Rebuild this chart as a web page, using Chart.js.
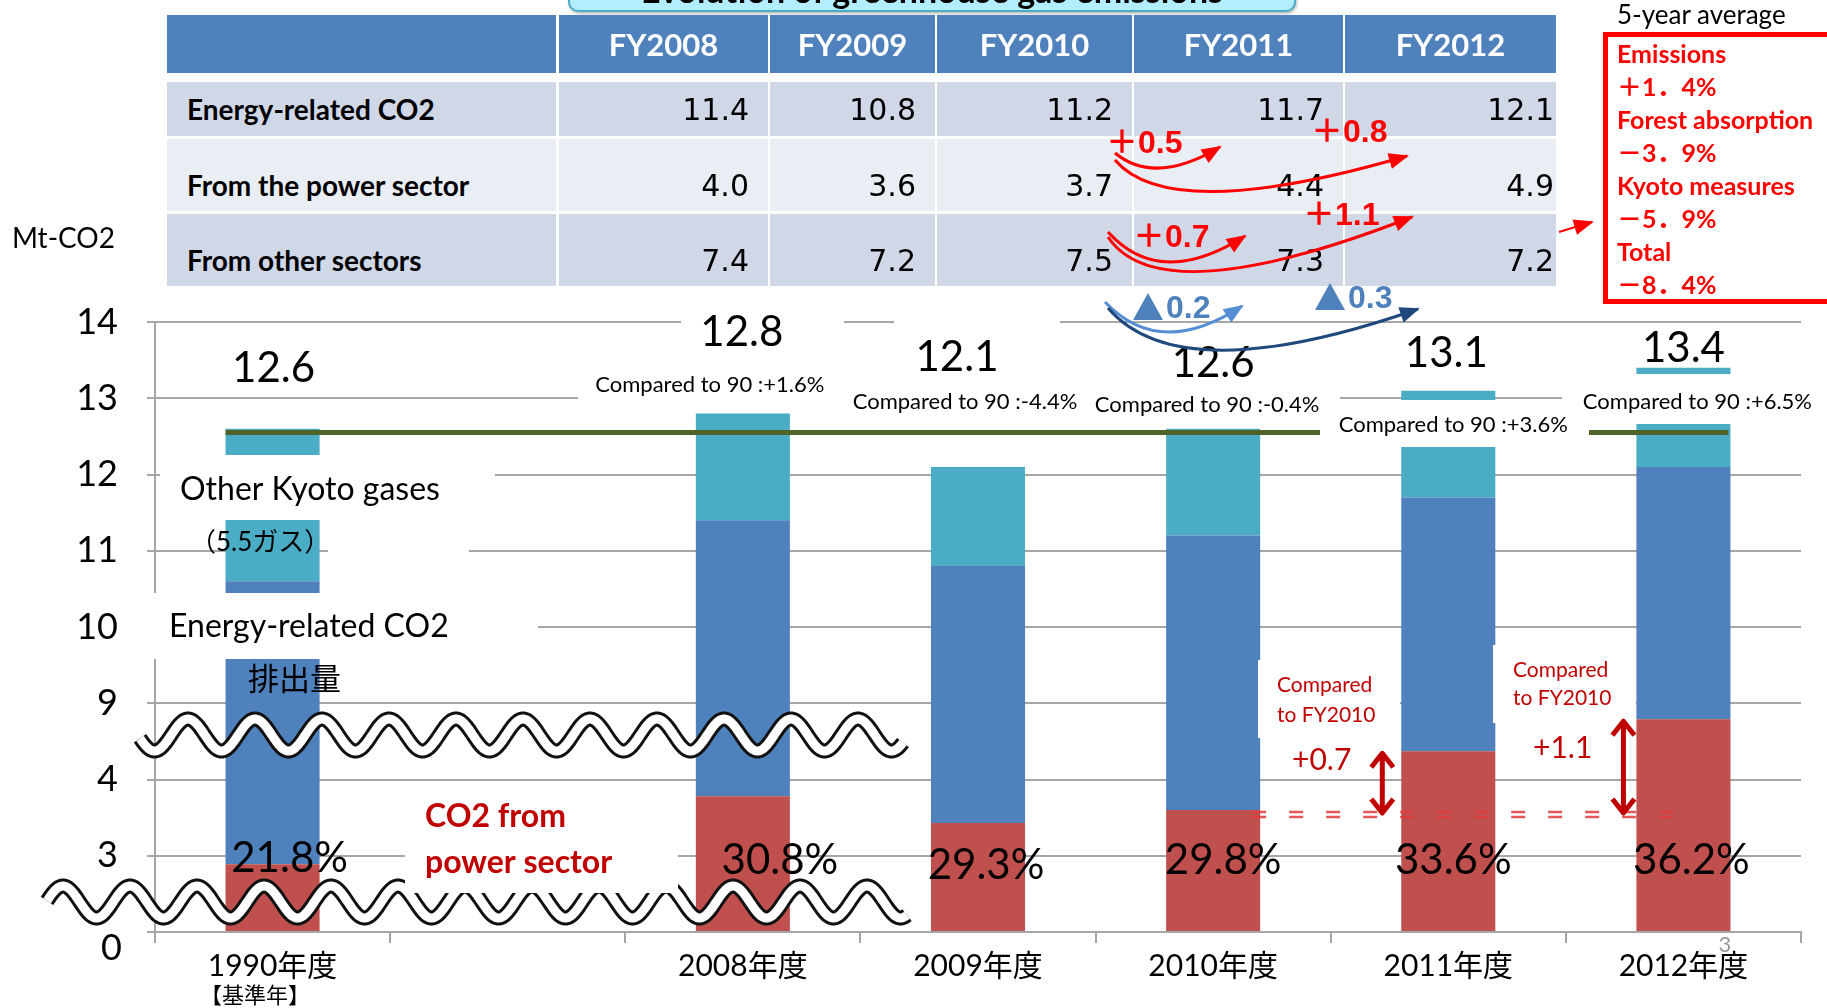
<!DOCTYPE html>
<html>
<head>
<meta charset="utf-8">
<script src="https://cdn.jsdelivr.net/npm/chart.js@4.4.1/dist/chart.umd.min.js"></script>
<style>
  body { margin: 0; width: 1827px; height: 1008px; overflow: hidden; background: #fff;
         font-family: Lato, 'Noto Sans CJK JP', sans-serif; position: relative; }
  #chart { position: absolute; left: 0; top: 0; }
  .abs { position: absolute; white-space: nowrap; }
  #title { left: 568px; top: -38px; width: 724px; height: 46px; border: 2px solid #4BACC6;
           border-radius: 10px; background: #B2EEFD; box-shadow: 1px 2px 3px rgba(0,0,0,0.25); }
  #title span { position: absolute; left: 0; right: 0; top: 9px; text-align: center;
                font-weight: bold; font-size: 34px; line-height: 34px; color: #000; }
  .cell { position: absolute; box-sizing: border-box; color: #000; }
  .head { background: #4F81BD; color: #fff; font-weight: bold; font-size: 31px;
          display: flex; align-items: center; justify-content: center; }
  .lab { font-weight: bold; font-size: 28px; padding-left: 20px; display: flex; align-items: center; }
  .num { font-family: 'DejaVu Sans', sans-serif; font-size: 30px;
         display: flex; align-items: center; justify-content: flex-end; }
  #redbox { left: 1603px; top: 32px; width: 240px; height: 272px; box-sizing: border-box;
            border: 5px solid #FF0000; padding-left: 9px; color: #FF0000; font-weight: bold;
            font-size: 25px; line-height: 33px; }
  #overlay { position: absolute; left: 0; top: 0; }
</style>
</head>
<body>
<canvas id="chart" width="1827" height="1008"></canvas>
<div id="title" class="abs"><span>Evolution of greenhouse gas emissions</span></div>
<div id="table"></div>
<div class="abs" style="left:12px;top:220px;font-size:28px;">Mt-CO2</div>
<div class="abs" style="left:1617px;top:-2px;font-size:26px;">5-year average</div>
<div id="redbox" class="abs"></div>
<svg id="overlay" width="1827" height="1008"></svg>

<script>
// -- data --
const categories = ['1990年度', '', '2008年度', '2009年度', '2010年度', '2011年度', '2012年度'];
const totalGHG  = [12.6, null, 12.8, 12.1, 12.6, 13.1, 13.4];
const energyCO2 = [10.6, null, 11.4, 10.8, 11.2, 11.7, 12.1];
const powerCO2  = [2.67, null, 3.78, 3.43, 3.6, 4.37, 4.79];   // read on the broken axis
const powerShare = ['21.8%', null, '30.8%', '29.3%', '29.8%', '33.6%', '36.2%'];
const vs1990 = [null, null, '+1.6%', '-4.4%', '-0.4%', '+3.6%', '+6.5%'];
const yTickLabels = ['0', '3', '4', '9', '10', '11', '12', '13', '14'];
const kyotoBase = 12.55;

const tableYears = ['FY2008', 'FY2009', 'FY2010', 'FY2011', 'FY2012'];
const tableRows = ['Energy-related CO2', 'From the power sector', 'From other sectors'];
const tableEnergy = [11.4, 10.8, 11.2, 11.7, 12.1];
const tablePower = [4.0, 3.6, 3.7, 4.4, 4.9];
const tableOther = [7.4, 7.2, 7.5, 7.3, 7.2];

const averageLines = ['Emissions', '＋1．4%', 'Forest absorption', '－3．9%', 'Kyoto measures', '－5．9%', 'Total', '－8．4%'];

// broken axis: 0-3 squeezed, 3-5 normal, 9-14 normal
function toAxis(v) {
  if (v >= 9) return v - 6;
  if (v >= 3) return Math.min(v - 2, 3);
  return v / 3;
}

// -- table --
const colX = [[167, 556], [559, 768], [770, 935], [937, 1132], [1134, 1343], [1345, 1556]];
const rowY = [[15, 73], [82, 136], [139, 211], [214, 286]];
const rowBg = ['#D0D8E8', '#E9EDF4', '#D0D8E8'];
const rowPad = [0, 20, 20];
const table = document.getElementById('table');

function cell(cls, x, y, html, extra) {
  const d = document.createElement('div');
  d.className = 'cell ' + cls;
  d.style.left = x[0] + 'px';
  d.style.width = (x[1] - x[0]) + 'px';
  d.style.top = y[0] + 'px';
  d.style.height = (y[1] - y[0]) + 'px';
  if (extra) Object.assign(d.style, extra);
  d.innerHTML = html;
  table.appendChild(d);
}

cell('head', colX[0], rowY[0], '');
tableYears.forEach((yr, i) => cell('head', colX[i + 1], rowY[0], yr));
[tableEnergy, tablePower, tableOther].forEach((vals, r) => {
  const bg = { background: rowBg[r], paddingTop: rowPad[r] + 'px' };
  cell('lab', colX[0], rowY[r + 1], tableRows[r], bg);
  vals.forEach((v, i) => {
    cell('num', colX[i + 1], rowY[r + 1], v.toFixed(1),
      Object.assign({ paddingRight: (i === 4 ? 2 : 19) + 'px' }, bg));
  });
});

document.getElementById('redbox').innerHTML = averageLines.join('<br>');

// -- arrows above the chart --
const svg = document.getElementById('overlay');
const NS = 'http://www.w3.org/2000/svg';

function curveArrow(p0, p1, p2, color, width) {
  const path = document.createElementNS(NS, 'path');
  path.setAttribute('d', `M${p0[0]},${p0[1]} Q${p1[0]},${p1[1]} ${p2[0]},${p2[1]}`);
  path.setAttribute('fill', 'none');
  path.setAttribute('stroke', color);
  path.setAttribute('stroke-width', width);
  svg.appendChild(path);
  const ang = Math.atan2(p2[1] - p1[1], p2[0] - p1[0]);
  const len = 18, half = 8;
  const bx = p2[0] - len * Math.cos(ang), by = p2[1] - len * Math.sin(ang);
  const head = document.createElementNS(NS, 'polygon');
  head.setAttribute('points', [
    [p2[0] + 2 * Math.cos(ang), p2[1] + 2 * Math.sin(ang)],
    [bx + half * Math.sin(ang), by - half * Math.cos(ang)],
    [bx - half * Math.sin(ang), by + half * Math.cos(ang)]
  ].map(p => p.join(',')).join(' '));
  head.setAttribute('fill', color);
  svg.appendChild(head);
}

function svgText(x, y, txt, color, size) {
  const t = document.createElementNS(NS, 'text');
  t.setAttribute('x', x);
  t.setAttribute('y', y);
  t.setAttribute('fill', color);
  t.setAttribute('font-size', size);
  t.setAttribute('font-weight', 'bold');
  t.setAttribute('font-family', "'Liberation Sans', 'Noto Sans CJK JP', sans-serif");
  t.setAttribute('dominant-baseline', 'central');
  t.textContent = txt;
  svg.appendChild(t);
}

function triangle(x, yTop, w, h, color) {
  const p = document.createElementNS(NS, 'polygon');
  p.setAttribute('points', `${x},${yTop + h} ${x + w / 2},${yTop} ${x + w},${yTop + h}`);
  p.setAttribute('fill', color);
  svg.appendChild(p);
}

curveArrow([1115, 153], [1155, 186], [1220, 147], '#FF0000', 3);
curveArrow([1115, 160], [1170, 225], [1407, 156], '#FF0000', 3);
curveArrow([1108, 232], [1160, 290], [1245, 236], '#FF0000', 3);
curveArrow([1108, 237], [1160, 315], [1412, 217], '#FF0000', 3);
curveArrow([1105, 302], [1160, 360], [1242, 306], '#558ED5', 3);
curveArrow([1108, 308], [1180, 392], [1418, 309], '#1F497D', 3);
curveArrow([1559, 232], [1575, 227], [1592, 222], '#FF0000', 2);

svgText(1106, 142, '＋0.5', '#FF0000', 32);
svgText(1311, 131, '＋0.8', '#FF0000', 32);
svgText(1133, 236, '＋0.7', '#FF0000', 32);
svgText(1303, 214, '＋1.1', '#FF0000', 32);
triangle(1133, 293, 30, 27, '#4F81BD');
svgText(1166, 307, '0.2', '#4F81BD', 32);
triangle(1315, 283, 30, 27, '#4F81BD');
svgText(1348, 297, '0.3', '#4F81BD', 32);

// -- overlay geometry on the chart (pixels) --
const masks = [
  [160, 455, 335, 65],    // Other Kyoto gases
  [328, 528, 141, 50],    // (5.5ガス)
  [140, 593, 398, 66],    // Energy-related CO2
  [681, 305, 163, 40],    // 12.8
  [894, 305, 166, 40],    // 12.1 / 12.6
  [578, 384, 762, 24],    // compared-to-90 row
  [1320, 400, 269, 47],   // +3.6%
  [1562, 374, 260, 50],   // +6.5%
  [1258, 660, 142, 78],   // Compared to FY2010 (1)
  [1493, 645, 143, 78]    // Compared to FY2010 (2)
];
const powerMask = [405, 785, 273, 108];
const totalLabelY = [368, null, 332, 357, 363, 353, 348];
const totalLabelDx = [1, 0, -1, -21, 0, -2, 0];
const vsLabelY = [null, null, 385, 402, 405, 425, 402];
const vsLabelDx = [0, 0, -33, -13, -6, 5, 14];
const shareLabelY = [858, null, 860, 865, 860, 860, 860];
const shareLabelDx = [17, 0, 37, 8, 10, 5, 8];

function wave(ctx, x0, x1, cy, peakX) {
  const amp = 16, period = 67;
  ctx.beginPath();
  for (let x = x0; x <= x1; x += 1) {
    const y = cy - amp * Math.cos(2 * Math.PI * (x - peakX) / period);
    if (x === x0) ctx.moveTo(x, y); else ctx.lineTo(x, y);
  }
  ctx.lineCap = 'butt';
  ctx.lineJoin = 'round';
  ctx.strokeStyle = '#111';
  ctx.lineWidth = 15;
  ctx.stroke();
  ctx.strokeStyle = '#fff';
  ctx.lineWidth = 9;
  ctx.stroke();
}

function text(ctx, str, x, y, font, color, align) {
  ctx.font = font;
  ctx.fillStyle = color;
  ctx.textAlign = align || 'center';
  ctx.textBaseline = 'middle';
  ctx.fillText(str, x, y);
}

const decor = {
  id: 'decor',
  afterDatasetsDraw(chart) {
    const ctx = chart.ctx;
    const xs = chart.scales.x, ys = chart.scales.y;
    const X = i => xs.getPixelForValue(i);
    const YV = v => ys.getPixelForValue(toAxis(v));
    const F = "Lato, 'Noto Sans CJK JP', sans-serif";
    ctx.save();

    // Kyoto base-year line
    ctx.strokeStyle = '#4F6228';
    ctx.lineWidth = 5;
    ctx.beginPath();
    ctx.moveTo(X(0) - 47, YV(kyotoBase));
    ctx.lineTo(X(6) + 45, YV(kyotoBase));
    ctx.stroke();

    ctx.fillStyle = '#fff';
    masks.forEach(m => ctx.fillRect(m[0], m[1], m[2], m[3]));

    // axis break marks
    wave(ctx, 140, 903, 735, 188);
    wave(ctx, 47, 907, 902, 197);
    ctx.fillStyle = '#fff';
    ctx.fillRect(powerMask[0], powerMask[1], powerMask[2], powerMask[3]);

    // the zero tick sits a little below its gridline
    text(ctx, yTickLabels[0], 122, 948, '36px ' + F, '#000', 'right');

    // bar labels
    categories.forEach((c, i) => {
      if (totalGHG[i] == null) return;
      text(ctx, totalGHG[i].toFixed(1), X(i) + totalLabelDx[i], totalLabelY[i], '42px ' + F, '#000');
      if (vs1990[i]) text(ctx, 'Compared to 90 :' + vs1990[i], X(i) + vsLabelDx[i], vsLabelY[i], '22px ' + F, '#000');
      text(ctx, powerShare[i], X(i) + shareLabelDx[i], shareLabelY[i], '42px ' + F, '#000');
    });

    // series names
    text(ctx, 'Other Kyoto gases', 180, 490, '32px ' + F, '#000', 'left');
    text(ctx, '（5.5ガス）', 190, 543, '26px ' + F, '#000', 'left');
    text(ctx, 'Energy-related CO2', 169, 627, '32px ' + F, '#000', 'left');
    text(ctx, '排出量', 248, 680, '31px ' + F, '#000', 'left');
    text(ctx, 'CO2 from', 425, 817, 'bold 32px ' + F, '#C00000', 'left');
    text(ctx, 'power sector', 425, 863, 'bold 32px ' + F, '#C00000', 'left');
    text(ctx, '【基準年】', 255, 996, '22px ' + F, '#000');
    text(ctx, '3', 1725, 945, '22px ' + F, '#999');

    // change in power-sector CO2 vs FY2010
    const baseY = YV(powerCO2[4]);
    ctx.strokeStyle = 'rgba(222,60,60,0.85)';
    ctx.lineWidth = 2.5;
    ctx.setLineDash([14, 23]);
    [2, 7].forEach(d => {
      ctx.beginPath();
      ctx.moveTo(X(4) + 39, baseY + d);
      ctx.lineTo(X(6) + 10, baseY + d);
      ctx.stroke();
    });
    ctx.setLineDash([]);

    ctx.strokeStyle = '#C00000';
    ctx.lineWidth = 5;
    [[5, -66], [6, -60]].forEach(([i, dx]) => {
      const x = X(i) + dx, top = YV(powerCO2[i]) + 2, bot = baseY + 3;
      ctx.beginPath();
      ctx.moveTo(x, top); ctx.lineTo(x, bot);
      ctx.moveTo(x - 11, top + 14); ctx.lineTo(x, top); ctx.lineTo(x + 11, top + 14);
      ctx.moveTo(x - 11, bot - 14); ctx.lineTo(x, bot); ctx.lineTo(x + 11, bot - 14);
      ctx.stroke();
    });

    text(ctx, 'Compared', 1277, 685, '21px ' + F, '#C00000', 'left');
    text(ctx, 'to FY2010', 1277, 715, '21px ' + F, '#C00000', 'left');
    text(ctx, 'Compared', 1513, 670, '21px ' + F, '#C00000', 'left');
    text(ctx, 'to FY2010', 1513, 698, '21px ' + F, '#C00000', 'left');
    text(ctx, '+0.7', 1292, 760, '30px ' + F, '#C00000', 'left');
    text(ctx, '+1.1', 1533, 748, '30px ' + F, '#C00000', 'left');

    ctx.restore();
  }
};

const span = (lo, hi) => categories.map((_, i) =>
  (lo[i] == null || hi[i] == null) ? null : [toAxis(lo[i]), toAxis(hi[i])]);

Chart.defaults.font.family = "Lato, 'Noto Sans CJK JP', sans-serif";
Chart.defaults.color = '#000';

new Chart(document.getElementById('chart'), {
  type: 'bar',
  data: {
    labels: categories,
    datasets: [
      { label: 'CO2 from power sector', data: span(powerCO2.map(() => 0), powerCO2), backgroundColor: '#C0504D' },
      { label: 'Energy-related CO2', data: span(powerCO2, energyCO2), backgroundColor: '#4F81BD' },
      { label: 'Other Kyoto gases', data: span(energyCO2, totalGHG), backgroundColor: '#4BACC6' }
    ]
  },
  options: {
    responsive: false,
    animation: false,
    barPercentage: 0.4,
    categoryPercentage: 1,
    layout: { padding: { top: 322, right: 26, left: 0, bottom: 0 } },
    plugins: { legend: { display: false }, tooltip: { enabled: false } },
    scales: {
      x: {
        stacked: true,
        grid: { drawOnChartArea: false, drawTicks: true, tickLength: 11, color: '#A6A6A6', lineWidth: 2, offset: true },
        border: { color: '#A6A6A6', width: 2 },
        ticks: { font: { size: 30 }, padding: 5, autoSkip: false, maxRotation: 0 },
        afterFit: s => { s.height = 76; }
      },
      y: {
        min: 0,
        max: 8,
        grid: { color: '#A6A6A6', lineWidth: 2, tickLength: 8 },
        border: { color: '#A6A6A6', width: 2 },
        ticks: { stepSize: 1, font: { size: 36 }, padding: 29, callback: v => (v === 0 ? '' : yTickLabels[v]) },
        afterFit: s => { s.width = 155; }
      }
    }
  },
  plugins: [decor]
});
</script>
</body>
</html>
